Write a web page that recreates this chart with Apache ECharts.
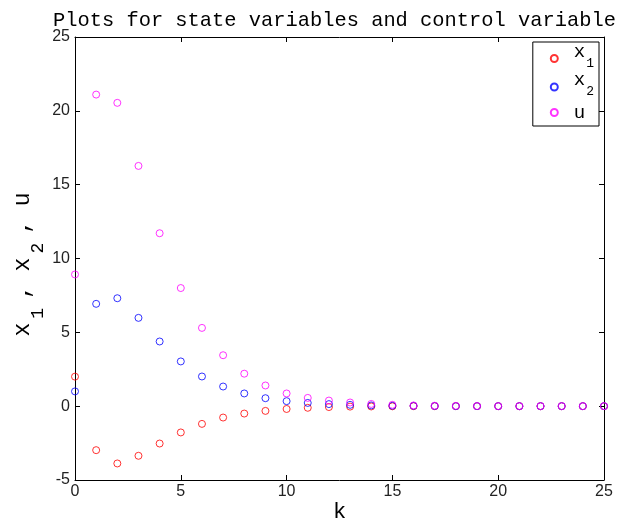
<!DOCTYPE html>
<html>
<head>
<meta charset="utf-8">
<script src="https://cdn.jsdelivr.net/npm/echarts@6/dist/echarts.min.js"></script>
<style>html,body{margin:0;padding:0;background:#fff}#c{width:621px;height:525px}</style>
</head>
<body>
<div id="c"></div>
<script>
var k = [0,1,2,3,4,5,6,7,8,9,10,11,12,13,14,15,16,17,18,19,20,21,22,23,24,25];
var x1 = [2.0,-2.98,-3.88,-3.36,-2.53,-1.78,-1.2,-0.77,-0.5,-0.32,-0.19,-0.11,-0.06,-0.03,-0.02,-0.01,0,0,0,0,0,0,0,0,0,0];
var x2 = [1.0,6.93,7.31,5.98,4.38,3.03,2.01,1.33,0.86,0.54,0.34,0.22,0.14,0.09,0.05,0.03,0.02,0.01,0,0,0,0,0,0,0,0];
var u  = [8.92,21.1,20.54,16.27,11.71,8.0,5.3,3.45,2.2,1.4,0.86,0.56,0.38,0.25,0.15,0.09,0.05,0.03,0.02,0.01,0,0,0,0,0,0];
var xTicks = [0,5,10,15,20,25];
var yTicks = [-5,0,5,10,15,20,25];

var mono = '"Liberation Mono", "DejaVu Sans Mono", monospace';
var sans = '"Liberation Sans", Arial, sans-serif';

function pts(arr){ return k.map(function(v,i){ return [v, arr[i]]; }); }
function ser(name, arr, col){
  return {
    name: name, type: 'scatter', data: pts(arr), symbol: 'circle', symbolSize: 7,
    clip: false,
    itemStyle: { color: 'rgba(255,255,255,0)', borderColor: col, borderWidth: 1 },
    emphasis: { disabled: true }
  };
}
var chart = echarts.init(document.getElementById('c'), null, {renderer: 'canvas'});
var ls = { color: '#000', width: 1 };
function axisCommon(extra){
  var o = {
    type: 'value',
    axisLine: { show: true, onZero: false, lineStyle: ls },
    axisTick: { show: true, inside: true, length: 5, lineStyle: ls },
    splitLine: { show: false }
  };
  for (var p in extra) o[p] = extra[p];
  return o;
}
chart.setOption({
  animation: false,
  backgroundColor: '#fff',
  title: {
    text: 'Plots for state variables and control variable',
    left: 48, top: 6,
    textStyle: { fontFamily: mono, fontSize: 20.4, fontWeight: 'normal', color: '#000' }
  },
  grid: { left: 75, right: 17, top: 37, bottom: 45, containLabel: false, outerBoundsMode: 'none' },
  legend: {
    orient: 'vertical', right: 22, top: 42,
    backgroundColor: '#fff', borderColor: '#000', borderWidth: 1, borderRadius: 0,
    padding: [0, 5, 0, 17],
    itemWidth: 7, itemHeight: 7, itemGap: 0,
    data: ['x1','x2','u'],
    formatter: function(n){
      if (n === 'u') return '{c|u}';
      return '{a|x}{s|' + n.slice(1) + '}';
    },
    textStyle: {
      fontFamily: mono, color: '#000',
      rich: {
        a: { fontFamily: mono, fontSize: 19, color: '#000', lineHeight: 24, height: 10, verticalAlign: 'top', padding: [0,0,0,11] },
        s: { fontFamily: mono, fontSize: 13, color: '#000', lineHeight: 24, height: 14, verticalAlign: 'bottom', padding: [0,0,0,1] },
        c: { fontFamily: mono, fontSize: 19, color: '#000', lineHeight: 20, padding: [4,0,4,11] }
      }
    }
  },
  xAxis: [axisCommon({
    min: 0, max: 25, interval: 5,
    name: 'k', nameLocation: 'middle', nameGap: 21, nameMoveOverlap: false,
    nameTextStyle: { fontFamily: mono, fontSize: 22, color: '#000' },
    axisLabel: { fontFamily: sans, fontSize: 16, color: '#222', margin: 4 }
  }), axisCommon({
    min: 0, max: 25, interval: 5, position: 'top',
    axisLabel: { show: false }
  })],
  yAxis: [axisCommon({
    min: -5, max: 25, interval: 5,
    name: '{b|x}{s|1}{b|, x}{s|2}{e|, u}', nameLocation: 'middle', nameGap: 27.5, nameMoveOverlap: false,
    nameTextStyle: {
      fontFamily: mono, fontSize: 23, color: '#000',
      rich: {
        b: { fontFamily: mono, fontSize: 23, color: '#000', lineHeight: 30, height: 10, verticalAlign: 'top' },
        e: { fontFamily: mono, fontSize: 23, color: '#000', lineHeight: 30, height: 10, verticalAlign: 'top', padding: [0,12,0,0] },
        s: { fontFamily: mono, fontSize: 18, color: '#000', lineHeight: 30, height: 18, verticalAlign: 'bottom', padding: [0,9,0,4] }
      }
    },
    axisLabel: { fontFamily: sans, fontSize: 16, color: '#222', margin: 5 }
  }), axisCommon({
    min: -5, max: 25, interval: 5, position: 'right',
    axisLabel: { show: false }
  })],
  series: [ ser('x1', x1, '#ff0000'), ser('x2', x2, '#0000ff'), ser('u', u, '#ff00ff') ]
});
</script>
</body>
</html>
